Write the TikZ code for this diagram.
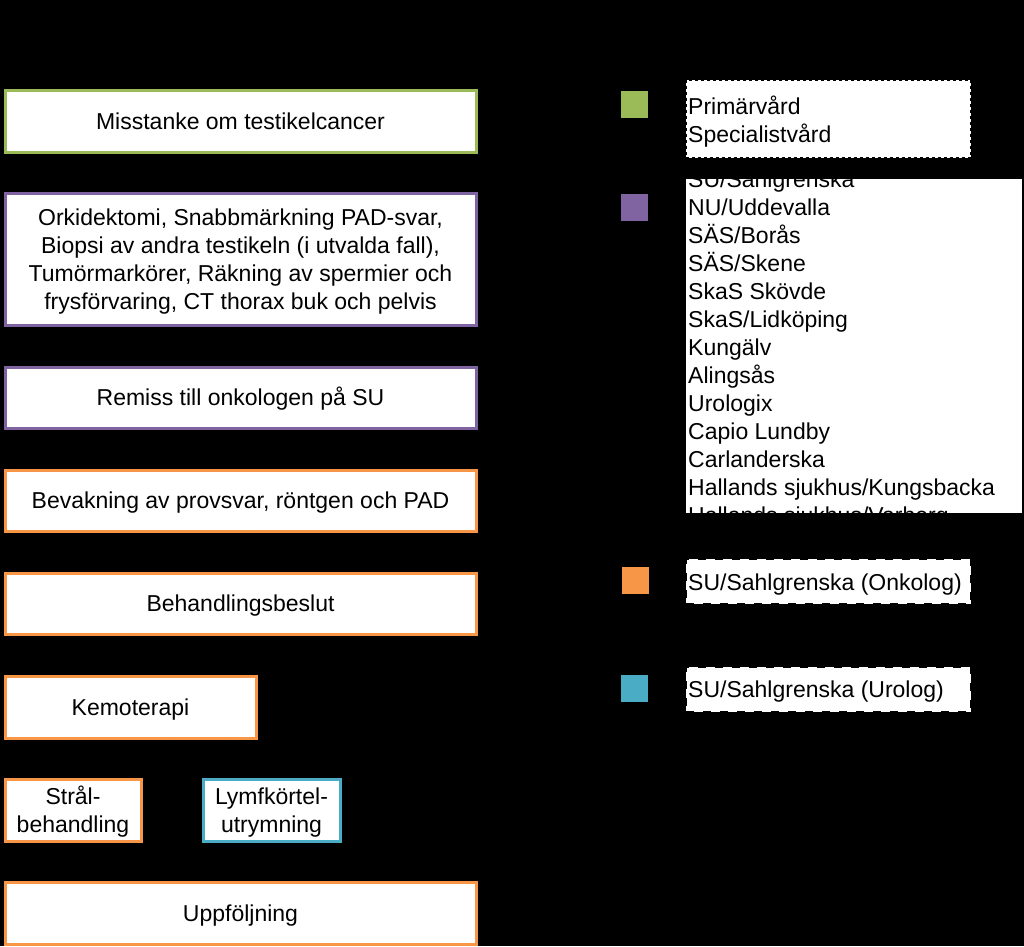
\documentclass[tikz,border=0pt]{standalone}
\usepackage{fontspec}
\setmainfont{Liberation Sans}
\usetikzlibrary{arrows.meta}
\definecolor{cgreen}{HTML}{9BBB59}
\definecolor{cpurple}{HTML}{8064A2}
\definecolor{corange}{HTML}{F79646}
\definecolor{cblue}{HTML}{4BACC6}
\newcommand\mytopstrut{\rule{0pt}{22.6pt}}
\newcommand\mybotstrut{\rule[-6pt]{0pt}{6pt}}
\begin{document}
\begin{tikzpicture}[x=1pt,y=-1pt,
  flowbox/.style={draw, line width=3pt, fill=white, inner sep=0pt, align=center,
    font=\fontsize{23}{28}\selectfont},
  oneline/.style={text height=22.6pt, text depth=6pt},
  conn/.style={draw=black, line width=1pt, -{Stealth[length=8pt]}},
  sq/.style={draw=none, minimum size=27pt, inner sep=0pt},
  legbox/.style={fill=white, draw=black, line width=2pt, inner sep=0pt},
  legtext/.style={inner sep=0pt, anchor=base west, font=\fontsize{23}{28}\selectfont}]
\fill[black] (0,0) rectangle (1024,946);
\useasboundingbox (0,0) rectangle (1024,946);

% flow boxes
\node[flowbox, oneline, draw=cgreen, minimum width=471pt, minimum height=62pt] (b1) at (240.5,121) {Misstanke om testikelcancer};
\node[flowbox, draw=cpurple, minimum width=471pt, minimum height=132pt] (b2) at (240.5,259) {\mytopstrut Orkidektomi, Snabbmärkning PAD-svar,\\Biopsi av andra testikeln (i utvalda fall),\\Tumörmarkörer, Räkning av spermier och\\frysförvaring, CT thorax buk och pelvis\mybotstrut};
\node[flowbox, oneline, draw=cpurple, minimum width=471pt, minimum height=61pt] (b3) at (240.5,397.5) {Remiss till onkologen på SU};
\node[flowbox, oneline, draw=corange, minimum width=471pt, minimum height=61pt] (b4) at (240.5,500.5) {Bevakning av provsvar, röntgen och PAD};
\node[flowbox, oneline, draw=corange, minimum width=471pt, minimum height=61pt] (b5) at (240.5,603.5) {Behandlingsbeslut};
\node[flowbox, oneline, draw=corange, minimum width=251pt, minimum height=62pt] (b6) at (130.5,707) {Kemoterapi};
\node[flowbox, draw=corange, minimum width=136pt, minimum height=62pt] (s) at (73,810) {\mytopstrut Strål-\\behandling\mybotstrut};
\node[flowbox, draw=cblue, minimum width=137pt, minimum height=62pt] (l) at (271.5,810) {\mytopstrut Lymfkörtel-\\utrymning\mybotstrut};
\node[flowbox, oneline, draw=corange, minimum width=471pt, minimum height=62pt] (u) at (240.5,913) {Uppföljning};

% connectors (black, as in the reference)
\draw[conn] (b1.south) -- (b2.north);
\draw[conn] (b2.south) -- (b3.north);
\draw[conn] (b3.south) -- (b4.north);
\draw[conn] (b4.south) -- (b5.north);
\draw[conn] (b5.south -| b6.north) -- (b6.north);
\draw[conn] (b6.south -| s.north) -- (s.north);
\draw[conn] (b6.south -| 230,0) -- (l.north -| 230,0);
\draw[conn] (b6.south -| 171,0) -- (u.north -| 171,0);
\draw[conn] (s.south) -- (s.south |- u.north);
\draw[conn] (l.south) -- (l.south |- u.north);
\draw[conn] (b5.south -| 402,0) -- (u.north -| 402,0);

% legend squares
\node[sq, fill=cgreen] (q1) at (634.5,104) {};
\node[sq, fill=cpurple] (q2) at (634.5,207.5) {};
\node[sq, fill=corange] (q3) at (635,580.5) {};
\node[sq, fill=cblue] (q4) at (634.5,688.5) {};

% legend 1
\node[legbox, dash pattern=on 3pt off 3pt, minimum width=285pt, minimum height=78pt] (g1) at (828.5,119) {};
\node[legtext] (g1a) at (688,114) {Primärvård};
\node[legtext] (g1b) at (688,142) {Specialistvård};

% legend 2 (clipped list)
\node[fill=white, draw=none, inner sep=0pt, minimum width=336pt, minimum height=334pt] (g2) at (854,346) {};
\begin{scope}
\clip (g2.south west) rectangle (g2.north east);
\foreach \t [count=\k from 0] in {SU/Sahlgrenska,NU/Uddevalla,SÄS/Borås,SÄS/Skene,SkaS Skövde,SkaS/Lidköping,Kungälv,Alingsås,Urologix,Capio Lundby,Carlanderska,Hallands sjukhus/Kungsbacka,Hallands sjukhus/Varberg}
  \node[legtext] (gl\k) at (688,187+28*\k) {\t};
\end{scope}

% legend 3 and 4
\node[legbox, dash pattern=on 8pt off 9pt, minimum width=285pt, minimum height=45pt] (g3) at (828.5,581.5) {};
\node[legtext] (g3a) at (688,590) {SU/Sahlgrenska (Onkolog)};
\node[legbox, dash pattern=on 8pt off 9pt, minimum width=285pt, minimum height=45pt] (g4) at (828.5,689.5) {};
\node[legtext] (g4a) at (688,697) {SU/Sahlgrenska (Urolog)};
\end{tikzpicture}
\end{document}
